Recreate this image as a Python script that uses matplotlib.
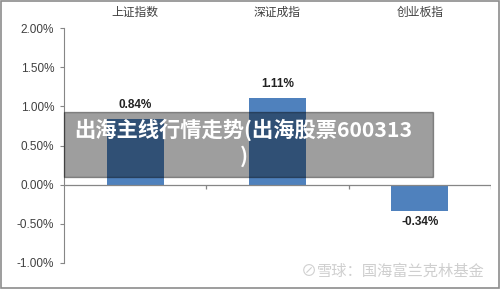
import matplotlib
matplotlib.use("Agg")
import matplotlib.pyplot as plt
from matplotlib.patches import Rectangle
from matplotlib.ticker import FuncFormatter

plt.rcParams["font.family"] = ["Liberation Sans", "Noto Sans CJK SC", "DejaVu Sans"]

# ── Données ──
categories = ["上证指数", "深证成指", "创业板指"]
changes = [0.84, 1.11, -0.34]          # en %
yticks = [-1.0, -0.5, 0.0, 0.5, 1.0, 1.5, 2.0]
banner_text = "出海主线行情走势(出海股票600313\n)"
watermark = "雪球：国海富兰克林基金"

bar_color = "#4F81BD"
axis_color = "#868686"

fig = plt.figure(figsize=(5, 2.89), dpi=100)
ax = fig.add_axes([0.128, 0.09, 0.854, 0.813])

x = range(len(categories))
ax.bar(x, changes, width=0.4, color=bar_color, zorder=2)

ax.set_xlim(-0.5, 2.5)
ax.set_ylim(-1.0, 2.0)
ax.set_yticks(yticks)
ax.yaxis.set_major_formatter(FuncFormatter(lambda v, _: f"{v:.2f}%"))
ax.tick_params(axis="y", length=3, color=axis_color, labelsize=8.5,
               labelcolor="#404040", pad=4)
ax.set_xticks([])

for side in ["top", "right", "bottom"]:
    ax.spines[side].set_visible(False)
ax.spines["left"].set_color(axis_color)

# ligne du zéro + séparateurs de catégories
ax.axhline(0, color=axis_color, linewidth=0.9, zorder=3)
ax.vlines([0.5, 1.5, 2.5], -0.06, 0, color=axis_color, linewidth=0.9)

# libellés des catégories en haut
for i, name in enumerate(categories):
    ax.text(i, 1.064, name, transform=ax.get_xaxis_transform(),
            ha="center", va="center", fontsize=8.5, color="#404040")

# valeurs sur les barres
for i, v in enumerate(changes):
    off = 0.1 if v >= 0 else -0.06
    ax.text(i, v + off, f"{v:.2f}%", ha="center",
            va="bottom" if v >= 0 else "top",
            fontsize=8.5, fontweight="bold", color="#222222")

# bandeau gris semi-transparent
fig.patches.append(Rectangle((0.128, 0.3875), 0.738, 0.225,
                             transform=fig.transFigure, color="black",
                             alpha=0.38, zorder=5))
fig.text(0.487, 0.505, banner_text, ha="center", va="center",
         multialignment="center", fontsize=15.3, fontweight="bold",
         color="white", family=["Noto Sans CJK SC", "DejaVu Sans"],
         linespacing=1.25, zorder=6)

# filigrane
fig.text(0.97, 0.06, watermark, ha="right", va="center", fontsize=11,
         color="#cfcfcf", family=["Noto Sans CJK SC", "DejaVu Sans"])
fig.text(0.618, 0.06, "⊘", ha="center", va="center", fontsize=11.5,
         color="#cfcfcf")

# cadre de l'image
fig.patches.append(Rectangle((0.001, 0.002), 0.997, 0.995,
                             transform=fig.transFigure, fill=False,
                             edgecolor="#8c8c8c", linewidth=1.2))

fig.savefig("out.png", dpi=100)
plt.close(fig)
